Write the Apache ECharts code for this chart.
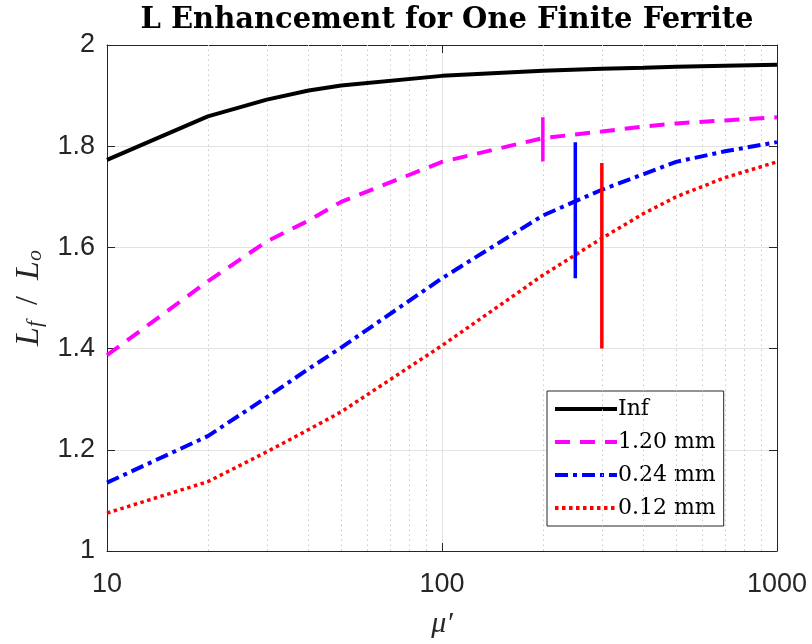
<!DOCTYPE html>
<html><head><meta charset="utf-8">
<script src="https://cdn.jsdelivr.net/npm/echarts@6/dist/echarts.min.js"></script>
<style>html,body{margin:0;padding:0;background:#fff}#c{width:812px;height:644px}</style>
</head><body><div id="c"></div>
<script>
const titleText = 'L Enhancement for One Finite Ferrite';
const muVals = [10, 20, 30, 40, 50, 100, 200, 300, 400, 500, 700, 1000];
const seriesNames = ['Inf', '1.20 mm', '0.24 mm', '0.12 mm'];
const infVals  = [1.773, 1.859, 1.892, 1.910, 1.920, 1.939, 1.949, 1.953, 1.955, 1.957, 1.959, 1.961];
const mm120    = [1.387, 1.533, 1.612, 1.653, 1.690, 1.769, 1.816, 1.829, 1.839, 1.845, 1.851, 1.857];
const mm024    = [1.135, 1.227, 1.304, 1.360, 1.402, 1.539, 1.663, 1.714, 1.745, 1.769, 1.790, 1.808];
const mm012    = [1.075, 1.137, 1.196, 1.240, 1.275, 1.406, 1.545, 1.618, 1.667, 1.700, 1.738, 1.769];
const markerX    = [200, 250, 300];
const markerLow  = [1.770, 1.539, 1.400];
const markerHigh = [1.857, 1.808, 1.767];
const minorGridX = [20, 30, 40, 50, 60, 70, 80, 90, 200, 300, 400, 500, 600, 700, 800, 900];

const colors = ['#000000', '#ff00ff', '#0000ff', '#ff0000'];
const dashes = ['solid', [15, 10], [13, 5, 4, 5], [3.5, 3.5]];
const widths = [4, 4, 4, 3.5];
const vals = [infVals, mm120, mm024, mm012];

const axisColor = '#262626';
const chart = echarts.init(document.getElementById('c'));

const series = seriesNames.map((n, i) => ({
  name: n, type: 'line', data: muVals.map((m, k) => [m, vals[i][k]]),
  symbol: 'none', smooth: false, z: 5,
  lineStyle: { color: colors[i], width: widths[i], type: dashes[i] },
  itemStyle: { color: colors[i] }
}));
series.push({
  type: 'line', data: [], silent: true,
  markLine: {
    symbol: 'none', silent: true, label: { show: false },
    lineStyle: { color: '#c8c8c8', type: [1.5, 3.5], width: 1 },
    data: minorGridX.map(v => ({ xAxis: v }))
  }
});
markerX.forEach((x, i) => {
  series.push({
    type: 'line', data: [[x, markerLow[i]], [x, markerHigh[i]]], symbol: 'none', z: 6,
    lineStyle: { color: colors[i + 1], width: 3.5, type: 'solid' }, silent: true
  });
});

const sans = 'Liberation Sans';
const serif = 'DejaVu Serif';
chart.setOption({
  animation: false,
  backgroundColor: '#fff',
  title: {
    text: titleText, left: 442, top: 1, textAlign: 'center',
    textStyle: { fontFamily: serif, fontWeight: 'bold', fontSize: 29, color: '#000' }
  },
  grid: { left: 107, right: 35, top: 45, bottom: 89 },
  legend: {
    data: seriesNames, orient: 'vertical', left: 547, top: 391,
    itemWidth: 62, itemHeight: 20, itemGap: 11,
    padding: [7, 8, 7, 6],
    itemStyle: { opacity: 0 },
    lineStyle: { width: 4 },
    borderColor: '#262626', borderWidth: 1, backgroundColor: '#fff',
    textStyle: { fontFamily: serif, fontSize: 22, color: '#000', padding: [0, 0, 0, -4] }
  },
  xAxis: [{
    type: 'log', logBase: 10, min: 10, max: 1000,
    name: 'μ′', nameLocation: 'middle', nameGap: 58,
    nameTextStyle: { fontFamily: 'Liberation Serif', fontStyle: 'italic', fontSize: 30, color: axisColor },
    axisLine: { show: true, lineStyle: { color: axisColor, width: 1 } },
    axisTick: { show: true, inside: true, length: 8, lineStyle: { color: axisColor } },
    axisLabel: { fontFamily: sans, fontSize: 27, color: axisColor, margin: 20, formatter: v => String(v) },
    splitLine: { show: true, lineStyle: { color: '#e3e3e3', width: 1 } }
  }, {
    type: 'log', logBase: 10, min: 10, max: 1000, position: 'top',
    axisLine: { show: true, lineStyle: { color: axisColor, width: 1 } },
    axisTick: { show: true, inside: true, length: 8, lineStyle: { color: axisColor } },
    axisLabel: { show: false }, splitLine: { show: false }
  }],
  yAxis: [{
    type: 'value', min: 1, max: 2, interval: 0.2,
    name: '{i|L}{s|f}{n|  /  }{i|L}{s|o}', nameLocation: 'middle', nameGap: 60, nameRotate: 90,
    nameTextStyle: {
      rich: {
        i: { fontFamily: 'Liberation Serif', fontStyle: 'italic', fontSize: 34, color: axisColor },
        s: { fontFamily: 'Liberation Serif', fontStyle: 'italic', fontSize: 22, color: axisColor, verticalAlign: 'bottom', padding: [14, 0, 0, 0] },
        n: { fontFamily: 'Liberation Serif', fontSize: 32, color: axisColor }
      }
    },
    axisLine: { show: true, lineStyle: { color: axisColor, width: 1 } },
    axisTick: { show: true, inside: true, length: 8, lineStyle: { color: axisColor } },
    axisLabel: { fontFamily: sans, fontSize: 27, color: axisColor, margin: 12,
      formatter: v => String(Math.round(v * 10) / 10) },
    splitLine: { show: true, lineStyle: { color: '#e3e3e3', width: 1 } }
  }, {
    type: 'value', min: 1, max: 2, interval: 0.2, position: 'right',
    axisLine: { show: true, lineStyle: { color: axisColor, width: 1 } },
    axisTick: { show: true, inside: true, length: 8, lineStyle: { color: axisColor } },
    axisLabel: { show: false }, splitLine: { show: false }
  }],
  series: series
});
</script></body></html>
